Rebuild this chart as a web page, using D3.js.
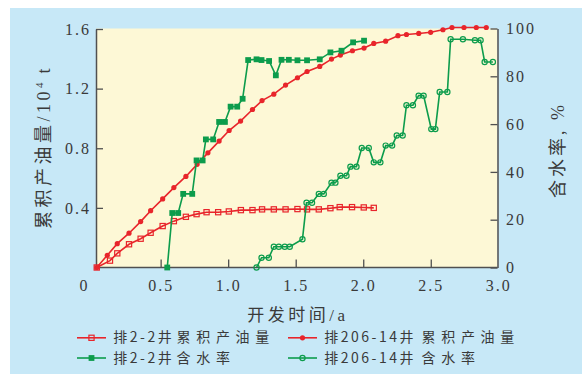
<!doctype html>
<html lang="zh">
<head>
<meta charset="utf-8">
<title>累积产油量与含水率</title>
<script src="https://cdn.jsdelivr.net/npm/d3@7"></script>
<style>
  html, body { margin: 0; padding: 0; background: #fff; }
  svg { display: block; }
  .num { font-family: "Liberation Serif", "Times New Roman", "DejaVu Serif", serif; font-size: 16px; fill: #3a3a3a; letter-spacing: 2px; }
  .cjk { font-family: "Noto Sans CJK SC", sans-serif; fill: #3a3a3a; }
  .mix { font-family: "Liberation Serif", "Times New Roman", "Noto Sans CJK SC", serif; fill: #3a3a3a; }
</style>
</head>
<body>
<svg id="chart" width="582" height="374"></svg>
<script>
// data: [time in years, value]
var oil22 = [[0.027,0],[0.125,0.046],[0.179,0.095],[0.266,0.156],[0.352,0.193],[0.426,0.233],
    [0.515,0.278],[0.598,0.311],[0.687,0.34],[0.766,0.358],[0.840,0.371],[0.926,0.371],
    [1.005,0.376],[1.094,0.385],[1.180,0.385],[1.251,0.39],[1.338,0.39],[1.425,0.39],
    [1.513,0.392],[1.584,0.39],[1.671,0.39],[1.757,0.398],[1.826,0.405],[1.917,0.405],
    [2.004,0.403],[2.078,0.4]];

var oil206 = [[0.027,0],[0.105,0.082],[0.179,0.16],[0.266,0.23],[0.352,0.308],[0.426,0.381],
    [0.515,0.46],[0.598,0.536],[0.687,0.611],[0.770,0.692],[0.850,0.769],[0.933,0.848],
    [1.007,0.919],[1.092,0.982],[1.180,1.06],[1.251,1.12],[1.338,1.163],[1.425,1.224],
    [1.513,1.273],[1.584,1.315],[1.678,1.349],[1.765,1.398],[1.831,1.425],[1.920,1.454],
    [2.006,1.472],[2.078,1.503],[2.166,1.518],[2.257,1.555],[2.320,1.563],[2.411,1.57],
    [2.499,1.578],[2.590,1.595],[2.657,1.61],[2.746,1.61],[2.837,1.61],[2.911,1.61]];

var water22 = [[0.549,0],[0.586,22.8],[0.630,22.8],[0.667,30.8],[0.734,30.8],[0.766,44.8],
    [0.811,44.8],[0.835,53.6],[0.889,53.6],[0.933,60.9],[0.976,60.9],[1.018,67.3],
    [1.067,67.3],[1.107,70.6],[1.148,86.8],[1.210,87.1],[1.247,86.8],[1.303,86.4],
    [1.353,80.4],[1.395,86.9],[1.449,86.9],[1.513,86.7],[1.584,86.7],[1.678,87.1],
    [1.757,90.0],[1.839,90.7],[1.925,94.2],[2.006,94.9]];

var water206 = [[1.210,0],[1.247,4.1],[1.301,4.1],[1.338,8.7],[1.375,8.7],[1.419,8.7],
    [1.456,8.7],[1.550,11.8],[1.580,27.1],[1.621,27.1],[1.671,30.8],[1.708,30.8],
    [1.765,35.5],[1.794,35.5],[1.831,38.4],[1.876,38.4],[1.905,42.2],[1.950,42.2],
    [1.989,50.0],[2.041,50.0],[2.078,44.0],[2.127,44.0],[2.166,51.0],[2.214,51.0],
    [2.248,55.2],[2.292,55.2],[2.320,67.9],[2.368,67.9],[2.410,71.9],[2.447,71.9],
    [2.504,57.9],[2.534,57.9],[2.566,73.4],[2.623,73.4],[2.647,95.5],[2.738,95.5],
    [2.827,95.1],[2.869,95.1],[2.899,86.0],[2.960,86.0]];

var xTicks = [0, 0.5, 1, 1.5, 2, 2.5, 3];
var yLeftTicks = [0.4, 0.8, 1.2, 1.6];
var yRightTicks = [0, 20, 40, 60, 80, 100];

var red = "#e8252b", green = "#0c9c4c", axisCol = "#505050";

var svg = d3.select("#chart");

// backgrounds
svg.append("rect").attr("x", 10).attr("y", 8).attr("width", 572).attr("height", 366).attr("fill", "#c7e8f7");
var box = {left: 96, right: 497.5, top: 28.5, bottom: 267.5};
svg.append("rect")
    .attr("x", box.left).attr("y", box.top)
    .attr("width", box.right - box.left).attr("height", box.bottom - box.top)
    .attr("fill", "#fdf8d6");

// scales
var x = d3.scaleLinear().domain([0, 3]).range([93.1, 498.3]);
var yL = d3.scaleLinear().domain([0, 1.6]).range([267.5, 29]);
var yR = d3.scaleLinear().domain([0, 100]).range([267.5, 28.5]);

// left axis
var gL = svg.append("g").attr("transform", "translate(" + box.left + ",0)")
    .call(d3.axisLeft(yL).tickValues(yLeftTicks).tickSize(-7).tickSizeOuter(0)
        .tickPadding(5).tickFormat(d3.format(".1f")));

// right axis
var gR = svg.append("g").attr("transform", "translate(" + box.right + ",0)")
    .call(d3.axisRight(yR).tickValues(yRightTicks).tickSize(-7).tickSizeOuter(0)
        .tickPadding(8.5).tickFormat(d3.format("d")));

// bottom axis
var gB = svg.append("g").attr("transform", "translate(0," + box.bottom + ")")
    .call(d3.axisBottom(x).tickValues(xTicks).tickSize(-8).tickSizeOuter(0)
        .tickPadding(12.5).tickFormat(function(d) { return d === 0 ? "0" : d3.format(".1f")(d); }));
gB.select(".domain").remove();
gB.selectAll(".tick").filter(function(d) { return d === 0 || d === 3; }).select("line").remove();
gB.selectAll(".tick").filter(function(d) { return d === 0; }).select("text").attr("x", -9);

svg.append("line")
    .attr("x1", box.left).attr("x2", box.right)
    .attr("y1", box.bottom).attr("y2", box.bottom)
    .attr("stroke", axisCol).attr("stroke-width", 1.5);

[gL, gR, gB].forEach(function(g) {
    g.attr("font-family", null);
    g.select(".domain").attr("stroke", axisCol).attr("stroke-width", 1.5);
    g.selectAll(".tick line").attr("stroke", axisCol).attr("stroke-width", 1.3);
    g.selectAll(".tick text").attr("class", "num");
});

// axis titles
svg.append("text").attr("class", "mix")
    .attr("transform", "translate(50,147) rotate(-90)")
    .attr("text-anchor", "middle")
    .style("font-size", "18px").style("letter-spacing", "3.5px")
    .call(function(t) {
        t.append("tspan").text("累积产油量/10");
        t.append("tspan").attr("dy", -7).style("font-size", "11px").style("letter-spacing", "1px").text("4");
        t.append("tspan").attr("dy", 7).text(" t");
    });

svg.append("text").attr("class", "mix")
    .attr("transform", "translate(564,150) rotate(-90)")
    .attr("text-anchor", "middle")
    .style("font-size", "18px").style("letter-spacing", "3px")
    .text("含水率, %");

svg.append("text").attr("class", "mix")
    .attr("x", 298).attr("y", 320.5)
    .attr("text-anchor", "middle")
    .style("font-size", "17px").style("letter-spacing", "3.5px")
    .text("开发时间/a");

// markers
function marker(g, type, color, cx, cy) {
    if (type === "sqOpen") {
        g.append("rect").attr("x", cx - 2.6).attr("y", cy - 2.6).attr("width", 5.2).attr("height", 5.2)
            .attr("fill", "none").attr("stroke", color).attr("stroke-width", 1.2);
    } else if (type === "sq") {
        g.append("rect").attr("x", cx - 2.9).attr("y", cy - 2.9).attr("width", 5.8).attr("height", 5.8)
            .attr("fill", color);
    } else if (type === "dot") {
        g.append("circle").attr("cx", cx).attr("cy", cy).attr("r", 2.6).attr("fill", color);
    } else {
        g.append("circle").attr("cx", cx).attr("cy", cy).attr("r", 2.6)
            .attr("fill", "none").attr("stroke", color).attr("stroke-width", 1.2);
    }
}

var series = [
    {data: oil22, y: yL, color: red, type: "sqOpen"},
    {data: oil206, y: yL, color: red, type: "dot"},
    {data: water22, y: yR, color: green, type: "sq"},
    {data: water206, y: yR, color: green, type: "circleOpen"}
];

series.forEach(function(s) {
    var line = d3.line().x(function(d) { return x(d[0]); }).y(function(d) { return s.y(d[1]); });
    var g = svg.append("g");
    g.append("path").datum(s.data).attr("d", line)
        .attr("fill", "none").attr("stroke", s.color).attr("stroke-width", 1.6);
    s.data.forEach(function(d) { marker(g, s.type, s.color, x(d[0]), s.y(d[1])); });
});

// legend: well name and quantity are set as two texts, the quantity spaced wider
var legend = [
    {well: "排2-2井", what: "累积产油量", color: red, type: "sqOpen", lx: 77, wx: 176.5, row: 337.8, ty: 342.3},
    {well: "排206-14井", what: "累积产油量", color: red, type: "dot", lx: 288, wx: 421.5, row: 337.8, ty: 342.3},
    {well: "排2-2井", what: "含水率", color: green, type: "sq", lx: 77, wx: 176.5, row: 358, ty: 362.7},
    {well: "排206-14井", what: "含水率", color: green, type: "circleOpen", lx: 288, wx: 421.5, row: 358, ty: 362.7}
];

legend.forEach(function(l) {
    var g = svg.append("g");
    g.append("line").attr("x1", l.lx).attr("x2", l.lx + 29).attr("y1", l.row).attr("y2", l.row)
        .attr("stroke", l.color).attr("stroke-width", 1.6);
    marker(g, l.type, l.color, l.lx + 14.5, l.row);
    g.append("text").attr("class", "cjk").attr("x", l.lx + 36.3).attr("y", l.ty)
        .style("font-size", "14px").style("letter-spacing", "2.5px").text(l.well);
    g.append("text").attr("class", "cjk").attr("x", l.wx).attr("y", l.ty)
        .style("font-size", "14px").style("letter-spacing", "5.7px").text(l.what);
});
</script>
</body>
</html>
